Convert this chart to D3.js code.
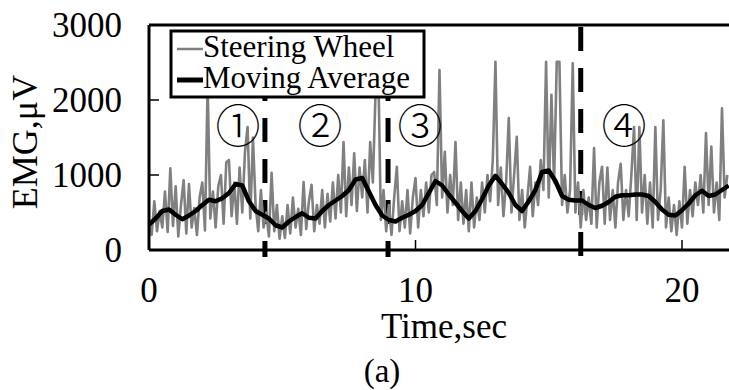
<!DOCTYPE html>
<html lang="en">

<head>
    <meta charset="UTF-8">
    <title>EMG steering wheel</title>
    <style>
        body { margin: 0; background: #fff; }
        svg { display: block; }
        text { font-family: "Liberation Serif", "Times New Roman", serif; fill: #000; }
    </style>
</head>

<body>
    <svg id="chart" width="729" height="390"></svg>
    <script src="https://cdn.jsdelivr.net/npm/d3@7"></script>
    <script>
        // raw EMG, one value every 0.1 s (uV)
        var rawStep = 0.1;
        var rawValues = [
            380, 200, 650, 250, 520, 300, 780, 240, 1090, 320,
            850, 180, 600, 930, 220, 880, 300, 560, 200, 700,
            900, 260, 2200, 420, 780, 300, 850, 1000, 350, 1170,
            1200, 450, 900, 350, 1100, 500, 1300, 1640, 420, 1500,
            600, 250, 800, 300, 500, 180, 1030, 250, 600, 150,
            450, 160, 600, 220, 700, 300, 550, 200, 907, 280,
            650, 870, 250, 600, 350, 800, 300, 750, 380, 900,
            420, 1000, 500, 1440, 450, 1100, 600, 1290, 520, 1100,
            700, 1200, 500, 1440, 900, 2090, 2500, 400, 800, 250,
            600, 200, 700, 1110, 250, 650, 300, 800, 220, 700,
            960, 300, 800, 450, 900, 500, 1000, 1040, 600, 2400,
            700, 1310, 500, 1000, 600, 1440, 400, 900, 350, 800,
            250, 900, 300, 700, 400, 900, 500, 1000, 650, 1200,
            2510, 600, 1100, 450, 900, 1760, 500, 1000, 1510, 400,
            800, 300, 700, 1110, 450, 900, 600, 1200, 800, 2510,
            700, 2070, 900, 2510, 2510, 600, 1000, 500, 800, 2490,
            500, 900, 300, 800, 400, 700, 350, 1360, 300, 900,
            1110, 350, 1100, 400, 800, 300, 900, 1150, 400, 800,
            450, 1000, 1640, 400, 1640, 500, 1000, 350, 900, 300,
            1640, 400, 800, 1730, 300, 700, 250, 600, 200, 650,
            300, 1110, 350, 800, 450, 900, 600, 1000, 500, 1560,
            600, 1380, 500, 900, 400, 1890, 700, 1000
        ];

        // moving average, one value every 0.25 s
        var avgStep = 0.25;
        var avgValues = [
            340, 420, 520, 540, 470, 410, 460, 520, 600, 670, 650, 690,
            760, 880, 860, 650, 520, 470, 420, 330, 300, 380, 440, 490,
            430, 420, 520, 600, 660, 720, 800, 940, 960, 780, 600, 460,
            400, 380, 430, 470, 520, 600, 760, 920, 860, 740, 630, 520,
            420, 520, 680, 860, 990, 880, 760, 600, 520, 650, 800, 1040,
            1060, 920, 720, 670, 660, 660, 600, 560, 590, 640, 710, 730,
            730, 740, 740, 720, 640, 540, 470, 460, 530, 620, 730, 790,
            720, 740, 800, 860
        ];

        var phaseBounds = [4.35, 8.97, 16.2];
        var phaseLabels = ["①", "②", "③", "④"];
        var phaseLabelTimes = [3.34, 6.42, 10.17, 17.82];
        var phaseLabelLevel = 1640;

        var xTicks = [0, 10, 20];
        var yTicks = [0, 1000, 2000, 3000];
        var seriesNames = ["Steering Wheel", "Moving Average"];

        var svg = d3.select("#chart");
        var plotLeft = 149, plotRight = 729, plotTop = 25, plotBottom = 250;

        var x = d3.scaleLinear().domain([0, 20]).range([plotLeft, 682]);
        var y = d3.scaleLinear().domain([0, 3000]).range([plotBottom, plotTop]);

        svg.append("rect").attr("width", 729).attr("height", 390).attr("fill", "#fff");

        svg.append("clipPath").attr("id", "plotClip")
            .append("rect")
            .attr("x", plotLeft).attr("y", plotTop)
            .attr("width", plotRight - plotLeft).attr("height", plotBottom - plotTop);

        // phase boundaries
        svg.selectAll(".bound")
            .data(phaseBounds)
            .enter()
            .append("line")
            .attr("class", "bound")
            .attr("x1", function (d) { return x(d); })
            .attr("x2", function (d) { return x(d); })
            .attr("y1", 27)
            .attr("y2", 257)
            .attr("stroke", "#000")
            .attr("stroke-width", 5)
            .attr("stroke-dasharray", "24,17")
            .attr("stroke-dashoffset", function (d, i) { return i < 2 ? -9 : 0; });

        var plot = svg.append("g").attr("clip-path", "url(#plotClip)");

        var rawLine = d3.line()
            .x(function (d, i) { return x(i * rawStep); })
            .y(function (d) { return y(d); });

        plot.append("path")
            .datum(rawValues)
            .attr("d", rawLine)
            .attr("fill", "none")
            .attr("stroke", "#808080")
            .attr("stroke-width", 2.6)
            .attr("stroke-linejoin", "round");

        var avgLine = d3.line()
            .x(function (d, i) { return x(i * avgStep); })
            .y(function (d) { return y(d); });

        plot.append("path")
            .datum(avgValues)
            .attr("d", avgLine)
            .attr("fill", "none")
            .attr("stroke", "#000")
            .attr("stroke-width", 4.5)
            .attr("stroke-linejoin", "round");

        // frame: left, bottom, top (right side is cut off)
        var frame = svg.append("g").attr("stroke", "#000").attr("stroke-width", 3);
        frame.append("line").attr("x1", plotLeft).attr("x2", plotRight).attr("y1", plotTop).attr("y2", plotTop);
        frame.append("line").attr("x1", plotLeft).attr("x2", plotRight).attr("y1", plotBottom).attr("y2", plotBottom);
        frame.append("line").attr("x1", plotLeft).attr("x2", plotLeft).attr("y1", plotTop).attr("y2", plotBottom);

        // inward ticks
        svg.selectAll(".ytick")
            .data(yTicks.slice(1, 3))
            .enter()
            .append("line")
            .attr("x1", plotLeft).attr("x2", plotLeft + 10)
            .attr("y1", function (d) { return y(d); })
            .attr("y2", function (d) { return y(d); })
            .attr("stroke", "#000").attr("stroke-width", 1.5);

        svg.selectAll(".xtick")
            .data(xTicks.slice(1))
            .enter()
            .append("line")
            .attr("x1", function (d) { return x(d); })
            .attr("x2", function (d) { return x(d); })
            .attr("y1", plotBottom).attr("y2", plotBottom - 10)
            .attr("stroke", "#000").attr("stroke-width", 1.5);

        svg.selectAll(".ylab")
            .data(yTicks)
            .enter()
            .append("text")
            .attr("x", 122)
            .attr("y", function (d) { return y(d); })
            .attr("dy", "0.33em")
            .attr("text-anchor", "end")
            .attr("font-size", 35)
            .text(function (d) { return d; });

        svg.selectAll(".xlab")
            .data(xTicks)
            .enter()
            .append("text")
            .attr("x", function (d) { return x(d); })
            .attr("y", 302)
            .attr("text-anchor", "middle")
            .attr("font-size", 35)
            .text(function (d) { return d; });

        svg.append("text")
            .attr("x", 444).attr("y", 338)
            .attr("text-anchor", "middle")
            .attr("font-size", 35)
            .text("Time,sec");

        svg.append("text")
            .attr("transform", "translate(37,142) rotate(-90)")
            .attr("text-anchor", "middle")
            .attr("font-size", 36)
            .text("EMG,μV");

        svg.append("text")
            .attr("x", 382).attr("y", 382)
            .attr("text-anchor", "middle")
            .attr("font-size", 33)
            .text("(a)");

        // legend
        var legend = svg.append("g");
        legend.append("rect")
            .attr("x", 171).attr("y", 31)
            .attr("width", 253).attr("height", 66)
            .attr("fill", "#fff").attr("stroke", "#000").attr("stroke-width", 3);
        var legendColors = ["#808080", "#000"];
        var legendWidths = [2.5, 5];
        seriesNames.forEach(function (name, i) {
            var ly = 49 + i * 31;
            legend.append("line")
                .attr("x1", 177).attr("x2", 203)
                .attr("y1", ly).attr("y2", ly)
                .attr("stroke", legendColors[i])
                .attr("stroke-width", legendWidths[i]);
            legend.append("text")
                .attr("x", 203).attr("y", ly + 8)
                .attr("font-size", 31)
                .text(name);
        });

        // circled phase numbers
        svg.selectAll(".phase")
            .data(phaseLabels)
            .enter()
            .append("text")
            .attr("x", function (d, i) { return x(phaseLabelTimes[i]); })
            .attr("y", y(phaseLabelLevel))
            .attr("dy", "0.36em")
            .attr("text-anchor", "middle")
            .attr("font-size", 45)
            .style("font-family", "'Noto Sans CJK JP', 'DejaVu Sans', sans-serif")
            .style("font-weight", 300)
            .text(function (d) { return d; });
    </script>
</body>

</html>
